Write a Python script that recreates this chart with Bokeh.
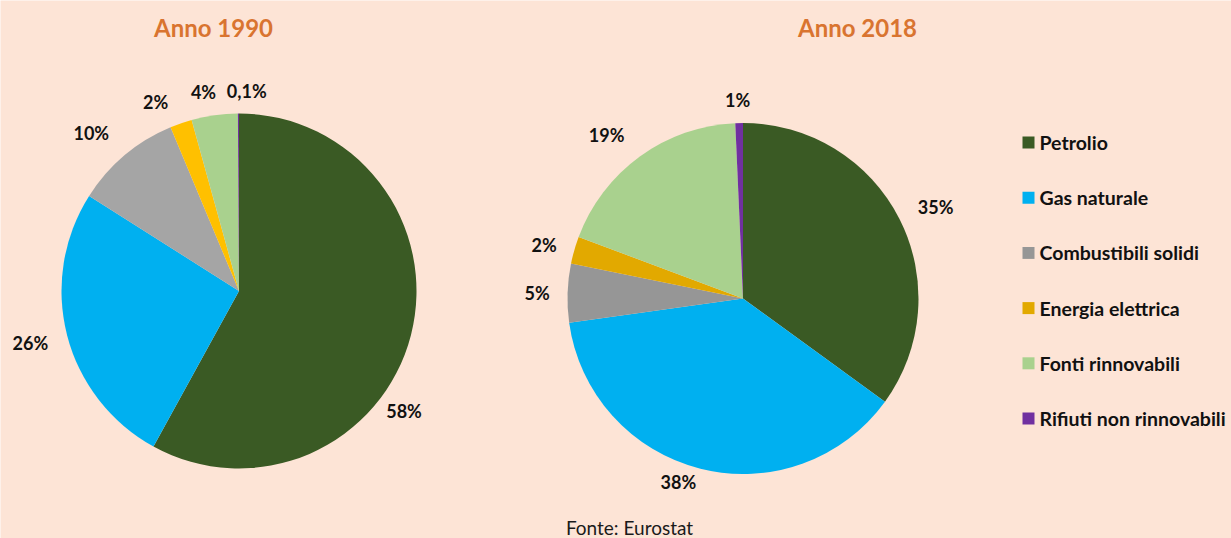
import math
from bokeh.plotting import figure
from bokeh.models import Range1d, ColumnDataSource
from bokeh.embed import file_html
from bokeh.resources import INLINE
from bokeh.core.properties import value

# ---------------- data ----------------
categories = ["Petrolio", "Gas naturale", "Combustibili solidi",
              "Energia elettrica", "Fonti rinnovabili", "Rifiuti non rinnovabili"]
values_1990 = [58.0, 26.0, 9.7, 2.0, 4.2, 0.1]
labels_1990 = ["58%", "26%", "10%", "2%", "4%", "0,1%"]
values_2018 = [35.0, 37.8, 5.4, 2.5, 18.6, 0.7]
labels_2018 = ["35%", "38%", "5%", "2%", "19%", "1%"]
titles = ["Anno 1990", "Anno 2018"]
source_note = "Fonte: Eurostat"

# ---------------- styles / layout ----------------
colors_1990 = ["#3A5A24", "#00B0F0", "#A5A5A5", "#FFC000", "#A9D18E", "#7030A0"]
colors_2018 = ["#3A5A24", "#00B0F0", "#969696", "#E2A900", "#A9D18E", "#7030A0"]
legend_colors = colors_2018
BG = "#FDE4D6"
TITLE_COLOR = "#D97430"
FONT = "Lato"

W, H = 1231, 538
# pie centres (screen px) and radii
pies = [
    dict(cx=238.5, cy=290.5, r=177.5),
    dict(cx=742.5, cy=298.0, r=175.5),
]
# label placement: angular nudge (deg) from slice middle, and distance from centre (px)
label_nudge = [[21.6, 0.4, -3.0, -4.7, -2.2, 2.4],
               [1.7, 5.3, -0.4, -1.0, -3.8, -0.3]]
label_dist = [[204, 215, 216, 207, 202, 200],
              [213, 195, 206, 206, 213, 199]]
title_pos = [(213, 27), (857, 27)]
legend_x_sq, legend_x_txt, legend_y0, legend_dy = 1028, 1039, 142, 55.2


def yd(ys):
    return H - ys


p = figure(width=W, height=H, output_backend="svg", toolbar_location=None,
           x_range=Range1d(0, W), y_range=Range1d(0, H), min_border=0)
p.background_fill_color = BG
p.border_fill_color = BG
p.outline_line_color = None
p.axis.visible = False
p.grid.visible = False

for k, (vals, labs, cols) in enumerate([(values_1990, labels_1990, colors_1990),
                                         (values_2018, labels_2018, colors_2018)]):
    pc = pies[k]
    total = sum(vals)
    starts, ends, mids = [], [], []
    c = 0.0
    for v in vals:
        c0 = c / total
        c += v
        c1 = c / total
        starts.append(math.pi / 2 - 2 * math.pi * c0)
        ends.append(math.pi / 2 - 2 * math.pi * c1)
        mids.append(360.0 * (c0 + c1) / 2)
    src = ColumnDataSource(dict(start=starts, end=ends, color=cols,
                                x=[pc["cx"]] * len(vals), y=[yd(pc["cy"])] * len(vals)))
    p.wedge(x="x", y="y", radius=pc["r"], start_angle="start", end_angle="end",
            direction="clock", fill_color="color", line_color=None, source=src)

    lx, ly = [], []
    for i, m in enumerate(mids):
        th = math.radians(m + label_nudge[k][i])
        d = label_dist[k][i]
        lx.append(pc["cx"] + d * math.sin(th))
        ly.append(yd(pc["cy"]) + d * math.cos(th))
    p.text(x=lx, y=ly, text=labs, text_font=value(FONT), text_font_style="bold",
           text_font_size="18px", text_color="#111111", text_align="center",
           text_baseline="middle")

# titles
p.text(x=[t[0] for t in title_pos], y=[yd(t[1]) for t in title_pos], text=titles,
       text_font=value(FONT), text_font_style="bold", text_font_size="24px",
       text_color=TITLE_COLOR, text_align="center", text_baseline="middle")

# legend
ly = [yd(legend_y0 + i * legend_dy) for i in range(len(categories))]
p.rect(x=[legend_x_sq] * len(categories), y=ly, width=12, height=12,
       fill_color=legend_colors, line_color=None)
p.text(x=[legend_x_txt] * len(categories), y=ly, text=categories,
       text_font=value(FONT), text_font_style="bold", text_font_size="19.5px",
       text_color="#111111", text_align="left", text_baseline="middle")

# source note
p.text(x=[629], y=[yd(527)], text=[source_note], text_font=value(FONT),
       text_font_size="19px", text_color="#1A1A1A", text_align="center",
       text_baseline="middle")

open("out.html", "w").write(file_html(p, INLINE))
